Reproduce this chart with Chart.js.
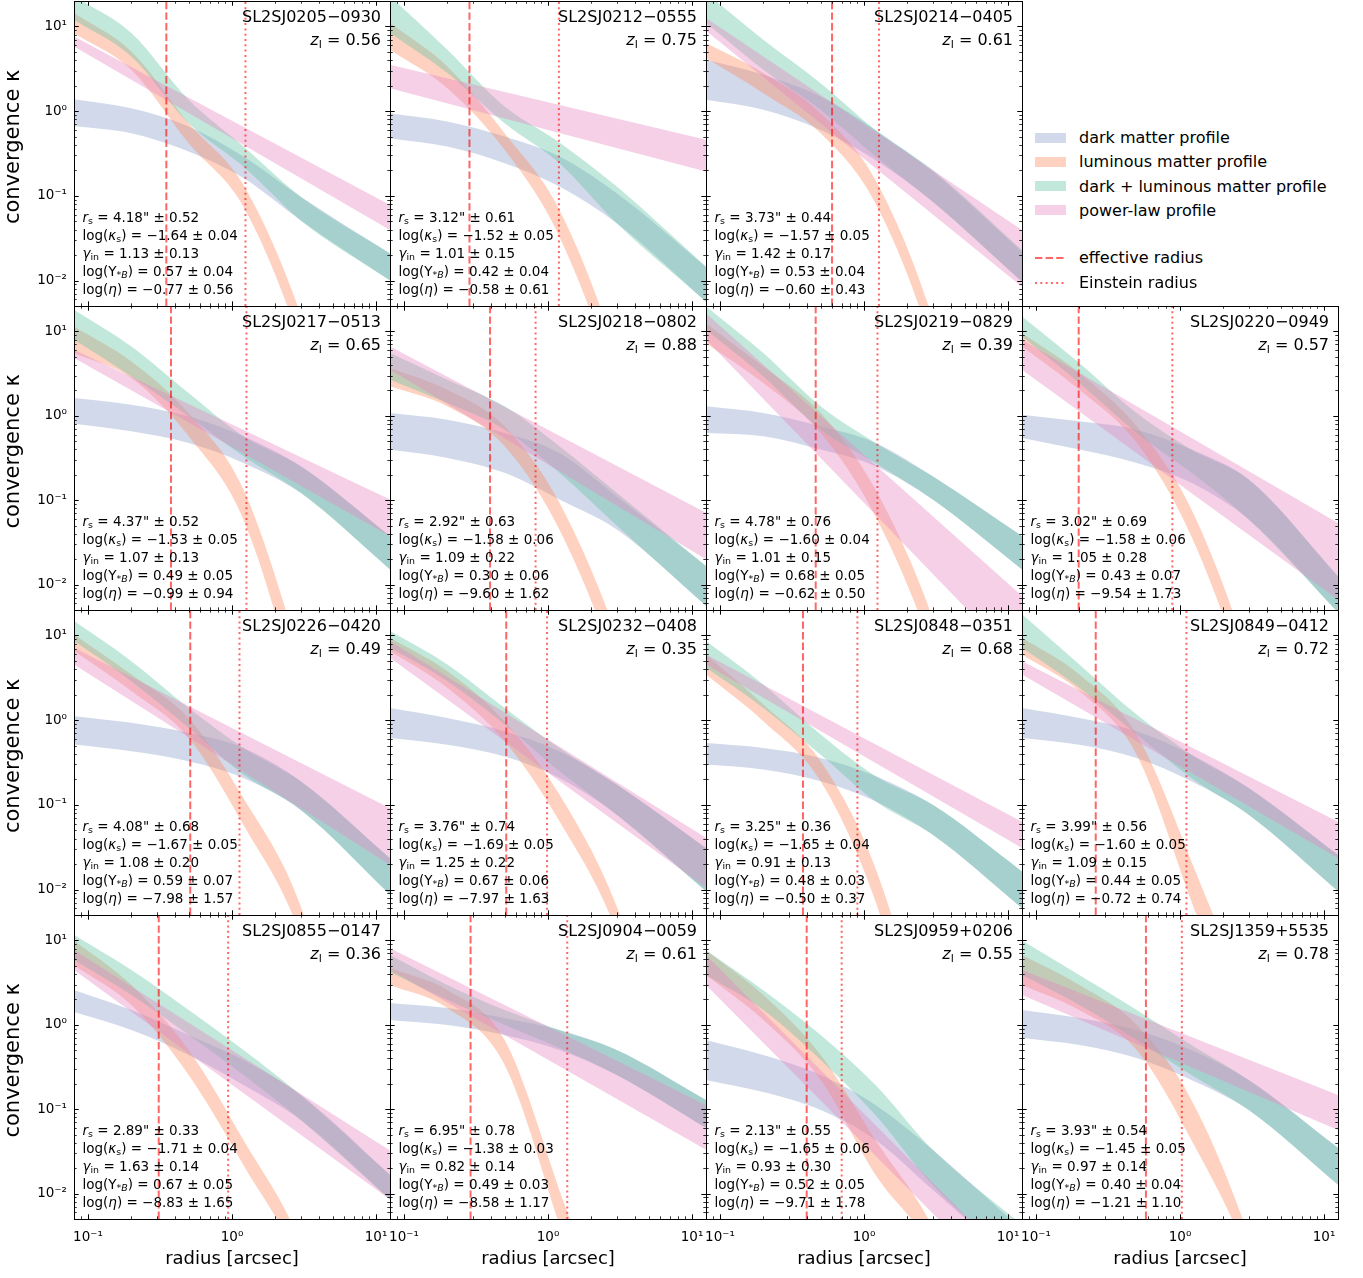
<!DOCTYPE html>
<html>
<head>
<meta charset="utf-8">
<script src="https://cdn.jsdelivr.net/npm/chart.js@4.4.1/dist/chart.umd.min.js"></script>
<style>
  body { margin: 0; background: #fff; }
  #fig { position: relative; width: 1363px; height: 1278px; overflow: hidden; font-family: 'DejaVu Sans', sans-serif; color: #000; }
  #fig canvas { position: absolute; }
  .title { position: absolute; text-align: right; font-size: 16px; line-height: 23px; white-space: nowrap; }
  .note { position: absolute; font-size: 13.5px; line-height: 17.8px; white-space: pre; }
  sub { font-size: 70%; line-height: 0; vertical-align: -0.25em; }
  .lg { position: absolute; left: 1035px; height: 24px; display: flex; align-items: center; font-size: 16px; white-space: nowrap; }
  .lg .sw { width: 31px; height: 10px; margin-right: 13px; }
  .lg svg { margin-right: 13px; }
</style>
</head>
<body>
<div id="fig"></div>
<script>
// radii [arcsec] where the model bands were read, and the two ends of the power-law bands
const RADII = [0.08, 0.2, 0.5, 1.2, 3, 12.5];
const PL_RADII = [0.08, 12.5];

const LENSES = ["SL2SJ0205−0930", "SL2SJ0212−0555", "SL2SJ0214−0405", "SL2SJ0217−0513",
    "SL2SJ0218−0802", "SL2SJ0219−0829", "SL2SJ0220−0949", "SL2SJ0226−0420",
    "SL2SJ0232−0408", "SL2SJ0848−0351", "SL2SJ0849−0412", "SL2SJ0855−0147",
    "SL2SJ0904−0059", "SL2SJ0959+0206", "SL2SJ1359+5535"];
const Z_LENS = ["0.56", "0.75", "0.61", "0.65", "0.88", "0.39", "0.57", "0.49",
    "0.35", "0.68", "0.72", "0.36", "0.61", "0.55", "0.78"];
const R_EFF = [0.35, 0.285, 0.60, 0.377, 0.396, 0.462, 0.198, 0.513, 0.513, 0.377, 0.26, 0.31, 0.29, 0.40, 0.58];
const R_EIN = [1.24, 1.19, 1.27, 1.26, 0.82, 1.24, 0.885, 1.127, 0.985, 0.90, 1.108, 0.94, 1.36, 0.70, 1.03];

// fitted parameters [value, error]
const RS = [[4.18, 0.52], [3.12, 0.61], [3.73, 0.44], [4.37, 0.52], [2.92, 0.63], [4.78, 0.76],
    [3.02, 0.69], [4.08, 0.68], [3.76, 0.74], [3.25, 0.36], [3.99, 0.56], [2.89, 0.33],
    [6.95, 0.78], [2.13, 0.55], [3.93, 0.54]];
const LOG_KS = [[-1.64, 0.04], [-1.52, 0.05], [-1.57, 0.05], [-1.53, 0.05], [-1.58, 0.06], [-1.60, 0.04],
    [-1.58, 0.06], [-1.67, 0.05], [-1.69, 0.05], [-1.65, 0.04], [-1.60, 0.05], [-1.71, 0.04],
    [-1.38, 0.03], [-1.65, 0.06], [-1.45, 0.05]];
const GAMMA_IN = [[1.13, 0.13], [1.01, 0.15], [1.42, 0.17], [1.07, 0.13], [1.09, 0.22], [1.01, 0.15],
    [1.05, 0.28], [1.08, 0.20], [1.25, 0.22], [0.91, 0.13], [1.09, 0.15], [1.63, 0.14],
    [0.82, 0.14], [0.93, 0.30], [0.97, 0.14]];
const LOG_UPS = [[0.57, 0.04], [0.42, 0.04], [0.53, 0.04], [0.49, 0.05], [0.30, 0.06], [0.68, 0.05],
    [0.43, 0.07], [0.59, 0.07], [0.67, 0.06], [0.48, 0.03], [0.44, 0.05], [0.67, 0.05],
    [0.49, 0.03], [0.52, 0.05], [0.40, 0.04]];
const LOG_ETA = [[-0.77, 0.56], [-0.58, 0.61], [-0.60, 0.43], [-0.99, 0.94], [-9.60, 1.62], [-0.62, 0.50],
    [-9.54, 1.73], [-7.98, 1.57], [-7.97, 1.63], [-0.50, 0.37], [-0.72, 0.74], [-8.83, 1.65],
    [-8.58, 1.17], [-9.71, 1.78], [-1.21, 1.10]];

// band edges as log10(kappa), one row per lens, at RADII
const DM_HI = [
    [0.142, 0.035, -0.18, -0.536, -1.01, -1.68],
    [-0.024, -0.122, -0.30, -0.536, -0.97, -1.838],
    [0.607, 0.43, 0.173, -0.221, -0.714, -1.66],
    [0.211, 0.132, -0.006, -0.243, -0.598, -1.425],
    [0.033, -0.046, -0.203, -0.44, -0.953, -1.78],
    [0.112, 0.033, -0.124, -0.321, -0.716, -1.425],
    [0.013, -0.065, -0.164, -0.40, -0.755, -1.9],
    [0.047, -0.032, -0.15, -0.328, -0.72, -1.63],
    [0.145, 0.027, -0.13, -0.367, -0.76, -1.51],
    [-0.27, -0.328, -0.446, -0.66, -1.0, -1.786],
    [0.145, 0.027, -0.13, -0.407, -0.8, -1.59],
    [0.412, 0.175, -0.12, -0.416, -0.831, -1.777],
    [0.258, 0.199, 0.08, -0.062, -0.298, -0.89],
    [-0.18, -0.358, -0.594, -0.949, -1.48, -2.43],
    [0.175, 0.08, -0.062, -0.298, -0.653, -1.457]];
const DM_LO = [
    [-0.174, -0.26, -0.477, -0.79, -1.29, -2.0],
    [-0.319, -0.418, -0.615, -0.891, -1.325, -2.25],
    [0.134, 0.016, -0.221, -0.576, -1.069, -2.015],
    [-0.093, -0.183, -0.322, -0.558, -0.913, -1.82],
    [-0.40, -0.499, -0.676, -0.992, -1.347, -2.25],
    [-0.203, -0.243, -0.40, -0.597, -0.992, -1.82],
    [-0.263, -0.40, -0.558, -0.794, -1.23, -2.33],
    [-0.288, -0.367, -0.485, -0.683, -1.06, -2.06],
    [-0.21, -0.29, -0.43, -0.683, -1.117, -2.02],
    [-0.525, -0.584, -0.722, -0.958, -1.354, -2.22],
    [-0.21, -0.29, -0.446, -0.722, -1.117, -2.02],
    [0.151, -0.062, -0.357, -0.712, -1.127, -2.07],
    [0.057, -0.002, -0.121, -0.298, -0.594, -1.22],
    [-0.653, -0.796, -1.009, -1.364, -1.955, -2.9],
    [-0.156, -0.239, -0.393, -0.653, -1.009, -1.895]];
const LUM_HI = [
    [1.16, 0.706, -0.142, -0.871, -2.4, -6],
    [1.04, 0.528, -0.26, -1.167, -2.9, -7],
    [0.804, 0.45, -0.024, -0.812, -2.45, -6.5],
    [1.059, 0.644, 0.033, -0.874, -2.9, -7],
    [0.565, 0.309, -0.124, -1.03, -2.6, -6],
    [1.097, 0.585, 0.033, -0.874, -2.4, -6],
    [0.98, 0.506, -0.124, -1.11, -2.9, -7],
    [1.013, 0.54, 0.027, -0.919, -2.2, -6],
    [0.973, 0.579, -0.012, -0.879, -2.2, -5.5],
    [0.776, 0.185, -0.486, -1.747, -4, -8],
    [0.973, 0.54, -0.17, -1.668, -3.5, -8],
    [1.0, 0.471, -0.298, -1.365, -2.6, -6],
    [0.672, 0.412, -0.181, -1.96, -4, -9],
    [0.884, 0.352, -0.358, -1.364, -2.4, -5],
    [0.826, 0.471, 0.0, -0.89, -2.5, -6]];
const LUM_LO = [
    [0.92, 0.489, -0.379, -1.128, -2.75, -6.5],
    [0.726, 0.272, -0.457, -1.483, -3.3, -7.5],
    [0.627, 0.213, -0.26, -1.088, -2.8, -7],
    [0.743, 0.447, -0.243, -1.229, -3.4, -7.5],
    [0.349, 0.112, -0.361, -1.35, -3.0, -6.5],
    [0.861, 0.388, -0.203, -1.19, -2.8, -6.5],
    [0.822, 0.309, -0.32, -1.43, -3.3, -7.5],
    [0.816, 0.343, -0.21, -1.234, -2.55, -6.5],
    [0.816, 0.382, -0.25, -1.194, -2.5, -6],
    [0.54, -0.012, -0.722, -2.14, -4.5, -8.5],
    [0.776, 0.343, -0.407, -2.14, -4, -8.5],
    [0.707, 0.234, -0.594, -1.66, -2.9, -6.5],
    [0.471, 0.199, -0.476, -2.37, -4.5, -9.5],
    [0.589, 0.057, -0.653, -1.777, -2.7, -5.5],
    [0.471, 0.175, -0.298, -1.364, -2.8, -6.5]];
const TOT_HI = [
    [1.356, 0.923, 0.134, -0.418, -1.01, -1.68],
    [1.356, 0.726, 0.055, -0.37, -0.891, -1.838],
    [1.396, 0.844, 0.331, -0.221, -0.694, -1.64],
    [1.256, 0.822, 0.27, -0.243, -0.598, -1.425],
    [0.743, 0.427, 0.112, -0.36, -0.913, -1.78],
    [1.295, 0.743, 0.112, -0.321, -0.716, -1.425],
    [1.177, 0.625, 0.033, -0.40, -0.755, -1.9],
    [1.17, 0.697, 0.145, -0.328, -0.72, -1.63],
    [1.052, 0.658, 0.145, -0.328, -0.76, -1.51],
    [0.934, 0.421, -0.17, -0.66, -1.0, -1.786],
    [1.25, 0.658, 0.066, -0.407, -0.8, -1.59],
    [1.063, 0.649, 0.175, -0.298, -0.831, -1.777],
    [0.826, 0.471, 0.175, -0.062, -0.298, -0.89],
    [0.884, 0.41, -0.121, -0.712, -1.48, -2.37],
    [1.0, 0.589, 0.175, -0.239, -0.653, -1.457]];
const TOT_LO = [
    [1.08, 0.647, -0.142, -0.655, -1.29, -2.0],
    [0.923, 0.45, -0.142, -0.615, -1.325, -2.25],
    [1.041, 0.489, 0.016, -0.536, -1.069, -2.015],
    [0.9, 0.467, -0.006, -0.479, -0.913, -1.82],
    [0.427, 0.151, -0.164, -0.676, -1.3, -2.25],
    [1.019, 0.467, -0.164, -0.558, -0.992, -1.82],
    [0.94, 0.388, -0.203, -0.676, -1.23, -2.33],
    [0.934, 0.461, -0.09, -0.643, -1.06, -2.06],
    [0.855, 0.461, -0.05, -0.604, -1.117, -2.02],
    [0.618, 0.145, -0.407, -0.958, -1.354, -2.22],
    [0.855, 0.382, -0.17, -0.683, -1.117, -2.02],
    [0.767, 0.353, -0.121, -0.594, -1.127, -2.07],
    [0.625, 0.293, -0.002, -0.275, -0.594, -1.22],
    [0.589, 0.175, -0.416, -1.068, -1.9, -2.84],
    [0.589, 0.234, -0.18, -0.594, -1.009, -1.895]];
// power-law band edges as log10(kappa) at PL_RADII
const PL_HI = [[0.883, -1.108], [0.548, -0.339], [1.10, -1.404], [0.782, -0.992], [0.822, -1.15],
    [1.216, -2.135], [0.9, -1.27], [0.855, -1.04], [0.934, -1.39], [0.776, -1.2],
    [0.697, -1.2], [0.885, -1.49], [0.908, -0.949], [0.826, -2.93], [0.648, -0.831]];
const PL_LO = [[0.765, -1.404], [0.272, -0.714], [0.95, -2.074], [0.684, -1.426], [0.546, -1.70],
    [0.9, -2.965], [0.545, -2.18], [0.658, -1.71], [0.737, -1.98], [0.658, -1.51],
    [0.54, -1.63], [0.648, -2.07], [0.648, -1.48], [0.471, -3.3], [0.353, -1.245]];

const X_MIN = 0.08, X_MAX = 12.5, Y_MIN = 0.005, Y_MAX = 20;
const X_MAJOR = [0.1, 1, 10];
const X_LABELS = ["10⁻¹", "10⁰", "10¹"];
const Y_MAJOR = [0.01, 0.1, 1, 10];
const Y_LABELS = ["10⁻²", "10⁻¹", "10⁰", "10¹"];

const C_DM = "rgba(141,160,203,0.4)";
const C_LUM = "rgba(252,141,98,0.4)";
const C_TOT = "rgba(102,194,165,0.4)";
const C_PL = "rgba(231,138,195,0.4)";
const C_LINE = "rgba(255,0,0,0.6)";
const DASH = [7.4, 3.2];
const DOT = [2, 3.3];

// figure layout (pixels)
const COL_X = [74, 390, 706, 1022];
const ROW_Y = [1, 306, 610, 915];
const ROW_H = [305, 304, 305, 304];
const PLOT_W = 316;
const PAD_L = 74, PAD_R = 4, PAD_T = 4, PAD_B = 60;
const SLOTS = [[0, 0], [0, 1], [0, 2],
    [1, 0], [1, 1], [1, 2], [1, 3],
    [2, 0], [2, 1], [2, 2], [2, 3],
    [3, 0], [3, 1], [3, 2], [3, 3]];

Chart.defaults.font.family = "'DejaVu Sans', sans-serif";
Chart.defaults.color = "#000";

function decadeTicks(lo, hi) {
    const out = [];
    for (let d = -3; d <= 1; d++) {
        for (let m = 1; m <= 9; m++) {
            const v = m * 10 ** d;
            if (v >= lo - 1e-12 && v <= hi + 1e-12) out.push({ value: v, major: m === 1 });
        }
    }
    return out;
}
const X_TICKS = decadeTicks(X_MIN, X_MAX);
const Y_TICKS = decadeTicks(Y_MIN, Y_MAX);

// inward ticks on all four sides plus the frame, like the matplotlib axes
const frameTicks = {
    id: "frameTicks",
    afterDraw(chart) {
        const { ctx, chartArea: a, scales: { x, y } } = chart;
        ctx.save();
        ctx.strokeStyle = "#000";
        for (const t of X_TICKS) {
            const p = Math.round(x.getPixelForValue(t.value)) + 0.5;
            if (p < a.left + 1 || p > a.right - 1) continue;
            const len = t.major ? 4.7 : 2.7;
            ctx.lineWidth = t.major ? 1 : 0.8;
            ctx.beginPath();
            ctx.moveTo(p, a.bottom); ctx.lineTo(p, a.bottom - len);
            ctx.moveTo(p, a.top); ctx.lineTo(p, a.top + len);
            ctx.stroke();
        }
        for (const t of Y_TICKS) {
            const p = Math.round(y.getPixelForValue(t.value)) + 0.5;
            if (p < a.top + 1 || p > a.bottom - 1) continue;
            const len = t.major ? 4.7 : 2.7;
            ctx.lineWidth = t.major ? 1 : 0.8;
            ctx.beginPath();
            ctx.moveTo(a.left, p); ctx.lineTo(a.left + len, p);
            ctx.moveTo(a.right, p); ctx.lineTo(a.right - len, p);
            ctx.stroke();
        }
        ctx.lineWidth = 1;
        ctx.strokeRect(a.left + 0.5, a.top + 0.5, a.right - a.left, a.bottom - a.top);
        ctx.restore();
    }
};

function band(xs, hi, lo, color, order) {
    const common = { borderWidth: 0, pointRadius: 0, cubicInterpolationMode: "monotone", order };
    return [
        { ...common, data: xs.map((x, k) => ({ x, y: 10 ** hi[k] })), fill: "+1", backgroundColor: color },
        { ...common, data: xs.map((x, k) => ({ x, y: 10 ** lo[k] })), fill: false }
    ];
}

function vline(x, dash) {
    return {
        data: [{ x, y: Y_MIN }, { x, y: Y_MAX }], borderColor: C_LINE, borderWidth: 2,
        borderDash: dash, borderCapStyle: "butt", pointRadius: 0, fill: false, order: 0
    };
}

const fmt = (v) => v.toFixed(2).replace("-", "−");
const pm = (p) => fmt(p[0]) + " ± " + fmt(p[1]);

const fig = document.getElementById("fig");

function makePanel(i) {
    const [row, col] = SLOTS[i];
    const left = COL_X[col], top = ROW_Y[row], h = ROW_H[row];
    const isLeft = col === 0, isBottom = row === 3;

    const canvas = document.createElement("canvas");
    canvas.width = PAD_L + PLOT_W + PAD_R;
    canvas.height = PAD_T + h + PAD_B;
    canvas.style.left = (left - PAD_L) + "px";
    canvas.style.top = (top - PAD_T) + "px";
    fig.appendChild(canvas);

    const datasets = [
        ...band(RADII, DM_HI[i], DM_LO[i], C_DM, 4),
        ...band(RADII, LUM_HI[i], LUM_LO[i], C_LUM, 3),
        ...band(RADII, TOT_HI[i], TOT_LO[i], C_TOT, 2),
        ...band(PL_RADII, PL_HI[i], PL_LO[i], C_PL, 1),
        vline(R_EFF[i], DASH),
        vline(R_EIN[i], DOT)
    ];

    new Chart(canvas, {
        type: "line",
        data: { datasets },
        options: {
            responsive: false,
            animation: false,
            events: [],
            layout: { padding: { top: PAD_T, right: PAD_R, left: 0, bottom: 0 } },
            elements: { line: { capBezierPoints: false } },
            plugins: { legend: { display: false }, tooltip: { enabled: false } },
            scales: {
                x: {
                    type: "logarithmic", min: X_MIN, max: X_MAX,
                    grid: { display: false, drawTicks: false }, border: { display: false },
                    afterBuildTicks: (s) => { s.ticks = X_TICKS.map((t) => ({ value: t.value })); },
                    afterFit: (s) => { s.height = PAD_B; s.paddingLeft = 0; s.paddingRight = 0; },
                    ticks: {
                        display: isBottom, autoSkip: false, maxRotation: 0, padding: 10,
                        font: { size: 13.5 },
                        callback: (v) => { const k = X_MAJOR.indexOf(v); return k < 0 ? "" : X_LABELS[k]; }
                    },
                    title: { display: isBottom, text: "radius [arcsec]", font: { size: 18 }, padding: { top: 0, bottom: 9 } }
                },
                y: {
                    type: "logarithmic", min: Y_MIN, max: Y_MAX,
                    grid: { display: false, drawTicks: false }, border: { display: false },
                    afterBuildTicks: (s) => { s.ticks = Y_TICKS.map((t) => ({ value: t.value })); },
                    afterFit: (s) => { s.width = PAD_L; s.paddingTop = 0; s.paddingBottom = 0; },
                    ticks: {
                        display: isLeft, autoSkip: false, padding: 7,
                        font: { size: 13.5 },
                        callback: (v) => { const k = Y_MAJOR.indexOf(v); return k < 0 ? "" : Y_LABELS[k]; }
                    },
                    // two leading spaces nudge the label up a little, as in the original
                    title: { display: isLeft, text: "  convergence κ", font: { size: 21 }, padding: { top: 1, bottom: 0 } }
                }
            }
        },
        plugins: [frameTicks]
    });

    const title = document.createElement("div");
    title.className = "title";
    title.style.right = (1363 - (left + PLOT_W - 9)) + "px";
    title.style.top = (top + 4) + "px";
    title.innerHTML = LENSES[i] + "<br><i>z</i><sub>l</sub> = " + Z_LENS[i];
    fig.appendChild(title);

    const note = document.createElement("div");
    note.className = "note";
    note.style.left = (left + 8.5) + "px";
    note.style.top = (top + h - 96.6) + "px";
    note.innerHTML = [
        "<i>r</i><sub>s</sub> = " + RS[i][0].toFixed(2) + "\" ± " + RS[i][1].toFixed(2),
        "log(<i>κ</i><sub>s</sub>) = " + pm(LOG_KS[i]),
        "<i>γ</i><sub>in</sub> = " + pm(GAMMA_IN[i]),
        "log(Υ<sub>*<i>B</i></sub>) = " + pm(LOG_UPS[i]),
        "log(<i>η</i>) = " + pm(LOG_ETA[i])
    ].join("\n");
    fig.appendChild(note);
}

for (let i = 0; i < LENSES.length; i++) makePanel(i);

// legend in the empty top-right slot
const LEGEND_BANDS = [["dark matter profile", C_DM], ["luminous matter profile", C_LUM],
    ["dark + luminous matter profile", C_TOT], ["power-law profile", C_PL]];
const LEGEND_LINES = [["effective radius", DASH], ["Einstein radius", DOT]];
const LEGEND_Y = [137.5, 161.7, 186, 210, 257.7, 282.7];

LEGEND_BANDS.forEach(([label, color], k) => {
    const r = document.createElement("div");
    r.className = "lg";
    r.style.top = (LEGEND_Y[k] - 12) + "px";
    r.innerHTML = '<div class="sw" style="background:' + color + '"></div>' + label;
    fig.appendChild(r);
});
LEGEND_LINES.forEach(([label, dash], k) => {
    const r = document.createElement("div");
    r.className = "lg";
    r.style.top = (LEGEND_Y[k + 4] - 12) + "px";
    r.innerHTML = '<svg width="31" height="10"><line x1="0" y1="5" x2="31" y2="5" stroke="' + C_LINE +
        '" stroke-width="2" stroke-dasharray="' + dash.join(" ") + '"/></svg>' + label;
    fig.appendChild(r);
});
</script>
</body>
</html>
